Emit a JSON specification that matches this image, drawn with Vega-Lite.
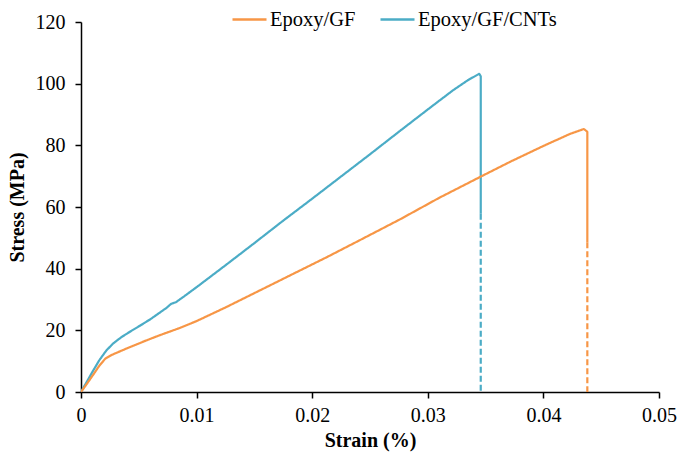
{
  "$schema": "https://vega.github.io/schema/vega-lite/v6.json",
  "width": 578,
  "height": 370,
  "autosize": {"type": "none"},
  "padding": {"left": 81, "top": 22, "right": 21, "bottom": 65},
  "background": "white",
  "config": {
    "font": "Liberation Serif",
    "view": {"stroke": null},
    "axis": {
      "grid": false,
      "domainColor": "black",
      "domainWidth": 1.5,
      "tickColor": "black",
      "tickWidth": 1.5,
      "tickSize": 6,
      "labelFlush": false,
      "labelFont": "Liberation Serif",
      "labelFontSize": 20,
      "labelColor": "black",
      "titleFont": "Liberation Serif",
      "titleFontSize": 20,
      "titleFontWeight": "bold",
      "titleColor": "black"
    }
  },
  "data": {
    "values": [
      {"series": "Epoxy/GF/CNTs", "seg": "solid", "i": 0, "strain": 0, "stress": 0},
      {"series": "Epoxy/GF/CNTs", "seg": "solid", "i": 1, "strain": 0.0005, "stress": 3.3},
      {"series": "Epoxy/GF/CNTs", "seg": "solid", "i": 2, "strain": 0.001, "stress": 6.6},
      {"series": "Epoxy/GF/CNTs", "seg": "solid", "i": 3, "strain": 0.0016, "stress": 10.4},
      {"series": "Epoxy/GF/CNTs", "seg": "solid", "i": 4, "strain": 0.0022, "stress": 13.5},
      {"series": "Epoxy/GF/CNTs", "seg": "solid", "i": 5, "strain": 0.0028, "stress": 15.8},
      {"series": "Epoxy/GF/CNTs", "seg": "solid", "i": 6, "strain": 0.0035, "stress": 17.8},
      {"series": "Epoxy/GF/CNTs", "seg": "solid", "i": 7, "strain": 0.0043, "stress": 19.7},
      {"series": "Epoxy/GF/CNTs", "seg": "solid", "i": 8, "strain": 0.0051, "stress": 21.5},
      {"series": "Epoxy/GF/CNTs", "seg": "solid", "i": 9, "strain": 0.006, "stress": 23.6},
      {"series": "Epoxy/GF/CNTs", "seg": "solid", "i": 10, "strain": 0.0068, "stress": 25.7},
      {"series": "Epoxy/GF/CNTs", "seg": "solid", "i": 11, "strain": 0.0074, "stress": 27.3},
      {"series": "Epoxy/GF/CNTs", "seg": "solid", "i": 12, "strain": 0.0078, "stress": 28.6},
      {"series": "Epoxy/GF/CNTs", "seg": "solid", "i": 13, "strain": 0.0082, "stress": 29.1},
      {"series": "Epoxy/GF/CNTs", "seg": "solid", "i": 14, "strain": 0.0088, "stress": 30.7},
      {"series": "Epoxy/GF/CNTs", "seg": "solid", "i": 15, "strain": 0.01, "stress": 34.0},
      {"series": "Epoxy/GF/CNTs", "seg": "solid", "i": 16, "strain": 0.0125, "stress": 41.1},
      {"series": "Epoxy/GF/CNTs", "seg": "solid", "i": 17, "strain": 0.015, "stress": 48.3},
      {"series": "Epoxy/GF/CNTs", "seg": "solid", "i": 18, "strain": 0.0175, "stress": 55.6},
      {"series": "Epoxy/GF/CNTs", "seg": "solid", "i": 19, "strain": 0.02, "stress": 62.7},
      {"series": "Epoxy/GF/CNTs", "seg": "solid", "i": 20, "strain": 0.0225, "stress": 69.9},
      {"series": "Epoxy/GF/CNTs", "seg": "solid", "i": 21, "strain": 0.025, "stress": 77.1},
      {"series": "Epoxy/GF/CNTs", "seg": "solid", "i": 22, "strain": 0.0276, "stress": 84.7},
      {"series": "Epoxy/GF/CNTs", "seg": "solid", "i": 23, "strain": 0.0303, "stress": 92.5},
      {"series": "Epoxy/GF/CNTs", "seg": "solid", "i": 24, "strain": 0.0322, "stress": 97.9},
      {"series": "Epoxy/GF/CNTs", "seg": "solid", "i": 25, "strain": 0.0335, "stress": 101.2},
      {"series": "Epoxy/GF/CNTs", "seg": "solid", "i": 26, "strain": 0.03445, "stress": 103.2},
      {"series": "Epoxy/GF/CNTs", "seg": "solid", "i": 27, "strain": 0.03458, "stress": 102.4},
      {"series": "Epoxy/GF/CNTs", "seg": "solid", "i": 28, "strain": 0.03458, "stress": 57.8},
      {"series": "Epoxy/GF/CNTs", "seg": "dashed", "i": 29, "strain": 0.03458, "stress": 57.8},
      {"series": "Epoxy/GF/CNTs", "seg": "dashed", "i": 30, "strain": 0.03458, "stress": 0},
      {"series": "Epoxy/GF", "seg": "solid", "i": 0, "strain": 0, "stress": 0},
      {"series": "Epoxy/GF", "seg": "solid", "i": 1, "strain": 0.0005, "stress": 2.6},
      {"series": "Epoxy/GF", "seg": "solid", "i": 2, "strain": 0.001, "stress": 5.3},
      {"series": "Epoxy/GF", "seg": "solid", "i": 3, "strain": 0.0016, "stress": 8.6},
      {"series": "Epoxy/GF", "seg": "solid", "i": 4, "strain": 0.0021, "stress": 10.8},
      {"series": "Epoxy/GF", "seg": "solid", "i": 5, "strain": 0.0027, "stress": 12.1},
      {"series": "Epoxy/GF", "seg": "solid", "i": 6, "strain": 0.004, "stress": 14.2},
      {"series": "Epoxy/GF", "seg": "solid", "i": 7, "strain": 0.0055, "stress": 16.5},
      {"series": "Epoxy/GF", "seg": "solid", "i": 8, "strain": 0.0068, "stress": 18.4},
      {"series": "Epoxy/GF", "seg": "solid", "i": 9, "strain": 0.0085, "stress": 20.7},
      {"series": "Epoxy/GF", "seg": "solid", "i": 10, "strain": 0.0100, "stress": 23.0},
      {"series": "Epoxy/GF", "seg": "solid", "i": 11, "strain": 0.0126, "stress": 27.6},
      {"series": "Epoxy/GF", "seg": "solid", "i": 12, "strain": 0.0155, "stress": 33.0},
      {"series": "Epoxy/GF", "seg": "solid", "i": 13, "strain": 0.0184, "stress": 38.4},
      {"series": "Epoxy/GF", "seg": "solid", "i": 14, "strain": 0.0213, "stress": 43.8},
      {"series": "Epoxy/GF", "seg": "solid", "i": 15, "strain": 0.0241, "stress": 49.2},
      {"series": "Epoxy/GF", "seg": "solid", "i": 16, "strain": 0.0276, "stress": 56.0},
      {"series": "Epoxy/GF", "seg": "solid", "i": 17, "strain": 0.031, "stress": 63.0},
      {"series": "Epoxy/GF", "seg": "solid", "i": 18, "strain": 0.0345, "stress": 69.7},
      {"series": "Epoxy/GF", "seg": "solid", "i": 19, "strain": 0.0372, "stress": 74.8},
      {"series": "Epoxy/GF", "seg": "solid", "i": 20, "strain": 0.04, "stress": 79.8},
      {"series": "Epoxy/GF", "seg": "solid", "i": 21, "strain": 0.0423, "stress": 83.7},
      {"series": "Epoxy/GF", "seg": "solid", "i": 22, "strain": 0.0435, "stress": 85.3},
      {"series": "Epoxy/GF", "seg": "solid", "i": 23, "strain": 0.0438, "stress": 84.4},
      {"series": "Epoxy/GF", "seg": "solid", "i": 24, "strain": 0.0438, "stress": 48.6},
      {"series": "Epoxy/GF", "seg": "dashed", "i": 25, "strain": 0.0438, "stress": 48.6},
      {"series": "Epoxy/GF", "seg": "dashed", "i": 26, "strain": 0.0438, "stress": 0}
    ]
  },
  "mark": {"type": "line", "strokeWidth": 2.2, "strokeJoin": "round", "clip": true},
  "encoding": {
    "x": {
      "field": "strain",
      "type": "quantitative",
      "title": "Strain (%)",
      "scale": {"domain": [0, 0.05], "nice": false},
      "axis": {"values": [0, 0.01, 0.02, 0.03, 0.04, 0.05], "format": "~g", "labelPadding": 7, "titlePadding": 5}
    },
    "y": {
      "field": "stress",
      "type": "quantitative",
      "title": "Stress (MPa)",
      "scale": {"domain": [0, 120], "nice": false},
      "axis": {"values": [0, 20, 40, 60, 80, 100, 120], "labelPadding": 10, "titlePadding": 8}
    },
    "color": {
      "field": "series",
      "type": "nominal",
      "scale": {"domain": ["Epoxy/GF", "Epoxy/GF/CNTs"], "range": ["#F79646", "#4BACC6"]},
      "legend": {
        "title": null,
        "orient": "none",
        "direction": "horizontal",
        "legendX": 150,
        "legendY": -21,
        "padding": 0,
        "symbolType": "stroke",
        "symbolSize": 1156,
        "symbolStrokeWidth": 2.5,
        "labelFont": "Liberation Serif",
        "labelFontSize": 20.5,
        "labelColor": "black",
        "labelOffset": 2,
        "columnPadding": 19
      }
    },
    "strokeDash": {
      "field": "seg",
      "type": "nominal",
      "scale": {"domain": ["solid", "dashed"], "range": [[1, 0], [6, 3]]},
      "legend": null
    },
    "order": {"field": "i", "type": "quantitative"}
  }
}
